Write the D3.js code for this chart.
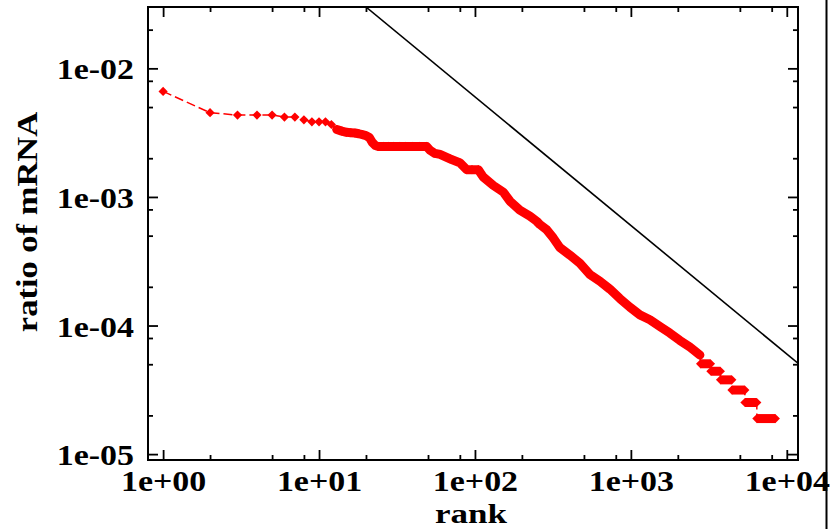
<!DOCTYPE html>
<html><head><meta charset="utf-8">
<script src="https://cdn.jsdelivr.net/npm/d3@7"></script>
<style>
body{margin:0;background:#fff;}
svg{display:block;}
text{font-family:"Liberation Serif","Times New Roman",serif;font-weight:bold;fill:#000;}
</style>
</head><body>
<script>
// ---- data ----
const rank = [1,2,3,4,5,6,7,8,9,10,11,12,13,14,15,16,17,18,19,20,21,22,23,
  24,26,28,30,33,36,40,44,49,51.5,55.4,59.7,69.2,80.2,88.5,95.7,105,113,131,152,168,194,
  225,249,261,288,318,351,406,471,546,633,733,850,985,1142,1324,1535,1778,2061,2389,2769];
const ratio = [0.00662,0.00452,0.00433,0.00433,0.00433,0.00418,0.00418,0.00398,0.00384,0.00384,0.00384,0.00366,0.00335,
  0.00325,0.00318,0.00316,0.00314,0.00310,0.00305,0.00300,0.00290,0.00265,0.00251,
  0.00247,0.00247,0.00247,0.00247,0.00247,0.00247,0.00247,0.00247,0.00247,
  0.00231,0.00218,0.00214,0.00198,0.00184,0.00163,0.00163,0.00163,0.00143,0.00123,0.00109,0.000925,0.00079,
  0.00071,0.000647,0.00061,0.000557,0.00048,0.000403,0.000353,0.000305,0.000249,0.000221,0.000192,0.000162,
  0.000139,0.000121,0.000111,9.84e-5,8.74e-5,7.66e-5,6.8e-5,5.9e-5];
// tail plateaus (rank ranges with equal ratio)
const stepStart = [2800,3260,3760,4450,5390,6430];
const stepEnd   = [3240,3750,4440,5380,6420,8440];
const stepRatio = [5.04e-5,4.41e-5,3.78e-5,3.15e-5,2.52e-5,1.89e-5];
// reference power law line
const refX = [20,12000];
const refY = [0.03,5e-5];
// axes
const xDomain = [0.8,11800];
const yDomain = [9e-6,0.03];
const xMajor = [1,10,100,1000,10000];
const xMajorLabels = ["1e+00","1e+01","1e+02","1e+03","1e+04"];
const xMinor = [2,5,8,20,50,80,200,500,800,2000,5000,8000];
const yMajor = [1e-5,1e-4,1e-3,1e-2];
const yMajorLabels = ["1e-05","1e-04","1e-03","1e-02"];
const yMinor = [2e-5,5e-5,8e-5,2e-4,5e-4,8e-4,2e-3,5e-3,8e-3,2e-2];
const xTitle = "rank";
const yTitle = "ratio of mRNA";

// ---- drawing ----
const W = 831, H = 529;
const L = 148, R = 798, T = 7, B = 460;
const FS = 29, SX = 1.17;
const red = "#ff0000";

const svg = d3.select("body").append("svg").attr("width", W).attr("height", H);
const x = d3.scaleLog().domain(xDomain).range([L, R]);
const y = d3.scaleLog().domain(yDomain).range([B, T]);

svg.append("defs").append("clipPath").attr("id","clip")
  .append("rect").attr("x",L).attr("y",T).attr("width",R-L).attr("height",B-T);

const plot = svg.append("g").attr("clip-path","url(#clip)");

// reference line
plot.append("path")
  .datum(refX.map((d,i)=>[d,refY[i]]))
  .attr("d", d3.line().x(d=>x(d[0])).y(d=>y(d[1])))
  .attr("fill","none").attr("stroke","#000").attr("stroke-width",1.6);

const main = rank.map((r,i)=>({r, v:ratio[i]}));
const steps = stepStart.map((s,i)=>({s, e:stepEnd[i], v:stepRatio[i]}));
const allPts = main.concat(steps.flatMap(d=>[{r:d.s,v:d.v},{r:d.e,v:d.v}]));

// thin dashed connecting line
plot.append("path").datum(allPts)
  .attr("d", d3.line().x(d=>x(d.r)).y(d=>y(d.v)))
  .attr("fill","none").attr("stroke",red).attr("stroke-width",1.5)
  .attr("stroke-dasharray","9,4");

// dense band of overlapping markers (drawn as thick stroke)
plot.append("path").datum(main.filter(d=>d.r>=13))
  .attr("d", d3.line().x(d=>x(d.r)).y(d=>y(d.v)))
  .attr("fill","none").attr("stroke",red).attr("stroke-width",9)
  .attr("stroke-linejoin","round").attr("stroke-linecap","round");

plot.selectAll("line.step").data(steps).join("line").attr("class","step")
  .attr("x1",d=>x(d.s)).attr("x2",d=>x(d.e))
  .attr("y1",d=>y(d.v)).attr("y2",d=>y(d.v))
  .attr("stroke",red).attr("stroke-width",9);

const diamond = "M0,-4.6L4.6,0L0,4.6L-4.6,0Z";
plot.selectAll("path.mk").data(allPts).join("path").attr("class","mk")
  .attr("d",diamond)
  .attr("transform",d=>`translate(${x(d.r)},${y(d.v)})`)
  .attr("fill",red);

// axes (ticks inward on all four sides)
function styleAxis(g){
  g.select(".domain").remove();
  g.selectAll(".tick line").attr("stroke","#000").attr("stroke-width",1.8);
}
const gB = svg.append("g").attr("transform",`translate(0,${B})`)
  .call(d3.axisBottom(x).tickValues(xMajor).tickSize(-10).tickFormat((d,i)=>xMajorLabels[i])).call(styleAxis);
gB.selectAll("text").attr("y",0).attr("dy",0).attr("font-size",FS)
  .attr("transform",`translate(0,30.5) scale(${SX},1)`).attr("fill","#000");
svg.append("g").attr("transform",`translate(0,${B})`)
  .call(d3.axisBottom(x).tickValues(xMinor).tickSize(-5).tickFormat("")).call(styleAxis);
svg.append("g").attr("transform",`translate(0,${T})`)
  .call(d3.axisTop(x).tickValues(xMajor).tickSize(-10).tickFormat("")).call(styleAxis);
svg.append("g").attr("transform",`translate(0,${T})`)
  .call(d3.axisTop(x).tickValues(xMinor).tickSize(-5).tickFormat("")).call(styleAxis);

const gL = svg.append("g").attr("transform",`translate(${L},0)`)
  .call(d3.axisLeft(y).tickValues(yMajor).tickSize(-10).tickFormat((d,i)=>yMajorLabels[i])).call(styleAxis);
gL.selectAll("text").attr("x",0).attr("dy",0).attr("font-size",FS).attr("text-anchor","end")
  .attr("transform",`translate(-14,10.5) scale(${SX},1)`).attr("fill","#000");
svg.append("g").attr("transform",`translate(${L},0)`)
  .call(d3.axisLeft(y).tickValues(yMinor).tickSize(-5).tickFormat("")).call(styleAxis);
svg.append("g").attr("transform",`translate(${R},0)`)
  .call(d3.axisRight(y).tickValues(yMajor).tickSize(-10).tickFormat("")).call(styleAxis);
svg.append("g").attr("transform",`translate(${R},0)`)
  .call(d3.axisRight(y).tickValues(yMinor).tickSize(-5).tickFormat("")).call(styleAxis);

// frame
svg.append("rect").attr("x",L).attr("y",T).attr("width",R-L).attr("height",B-T)
  .attr("fill","none").attr("stroke","#000").attr("stroke-width",2);

// titles
svg.append("text").attr("text-anchor","middle").attr("font-size",28)
  .attr("transform",`translate(471,522.5) scale(1.25,1)`).text(xTitle);
svg.append("text").attr("text-anchor","middle").attr("font-size",FS)
  .attr("transform",`translate(37,222) rotate(-90) scale(1.19,1)`).text(yTitle);

// page edge line at right
svg.append("line").attr("x1",826.5).attr("x2",826.5).attr("y1",0).attr("y2",H)
  .attr("stroke","#000").attr("stroke-width",2);
</script>
</body></html>
